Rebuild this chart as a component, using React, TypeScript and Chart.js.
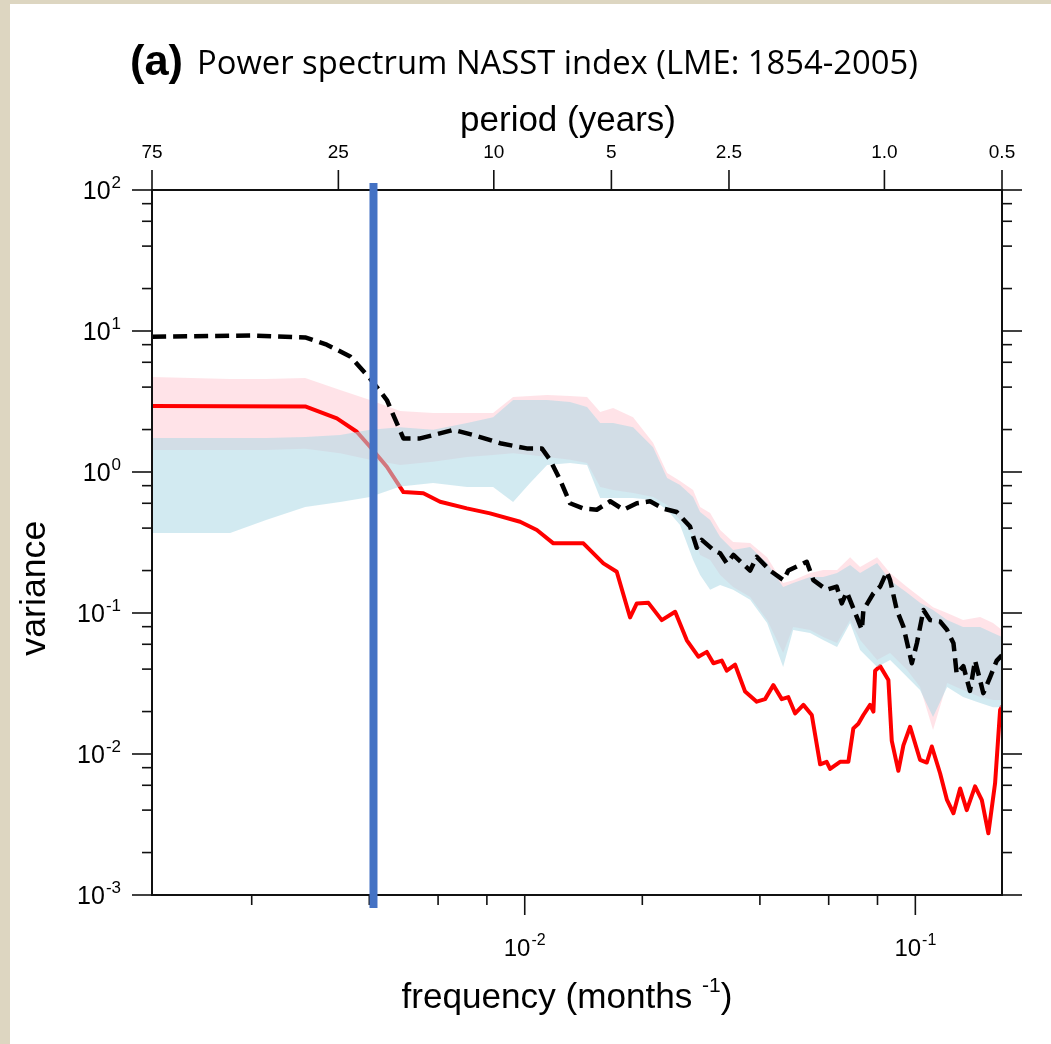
import React, { useEffect, useRef } from 'react';
import { Chart, registerables } from 'chart.js';

Chart.register(...registerables);

// ---------- axis ranges ----------
const FREQ_MIN = 1 / 900; // 75-year period, cycles per month
const FREQ_MAX = 1 / 6; // 0.5-year period
const VAR_MIN = 1e-3;
const VAR_MAX = 1e2;

// ---------- black dashed spectrum ----------
const blackFreq = [
  0.001112, 0.002, 0.002741, 0.003113, 0.003573, 0.004018, 0.004436, 0.004891, 0.005398, 0.006566,
  0.007391, 0.00865, 0.01012, 0.01106, 0.01161, 0.01232, 0.01306, 0.01413, 0.01529, 0.01655,
  0.0179, 0.01936, 0.02094, 0.02265, 0.0245, 0.0265, 0.02757, 0.02839, 0.03041, 0.03164,
  0.0329, 0.03422, 0.03776, 0.03926, 0.04246, 0.04594, 0.0473, 0.05272, 0.05483, 0.05929,
  0.0629, 0.06481, 0.06676, 0.07079, 0.07295, 0.07362, 0.0781, 0.08124, 0.08453, 0.08617,
  0.08964, 0.0932, 0.09795, 0.1009, 0.1049, 0.1091, 0.1157, 0.1205, 0.1252, 0.1276,
  0.1327, 0.138, 0.1422, 0.1493, 0.1553, 0.1616, 0.1665,
];
const blackVariance = [
  9.1, 9.3, 9.0, 8.0, 6.6, 4.6, 3.24, 1.73, 1.73, 1.99,
  1.83, 1.6, 1.47, 1.47, 1.22, 0.88, 0.6, 0.55, 0.54, 0.62,
  0.54, 0.6, 0.62, 0.55, 0.52, 0.41, 0.29, 0.33, 0.28, 0.265,
  0.225, 0.258, 0.2, 0.25, 0.2, 0.171, 0.2, 0.231, 0.171, 0.146,
  0.154, 0.117, 0.141, 0.094, 0.076, 0.105, 0.138, 0.154, 0.196, 0.171,
  0.105, 0.08, 0.044, 0.061, 0.105, 0.089, 0.087, 0.076, 0.061, 0.037,
  0.042, 0.028, 0.046, 0.027, 0.035, 0.046, 0.05,
];

// ---------- red spectrum ----------
const redFreq = [
  0.001112, 0.002741, 0.003304, 0.003716, 0.004018, 0.004436, 0.004891, 0.005502, 0.006071, 0.00711,
  0.008151, 0.00973, 0.01074, 0.01184, 0.01413, 0.0159, 0.0172, 0.01861, 0.01936, 0.02073,
  0.02243, 0.02427, 0.026, 0.02783, 0.02925, 0.03041, 0.03195, 0.0329, 0.03456, 0.03666,
  0.03926, 0.04124, 0.0433, 0.0455, 0.0473, 0.04924, 0.05169, 0.05431, 0.05705, 0.05929,
  0.0605, 0.06416, 0.06739, 0.06939, 0.07146, 0.07362, 0.07657, 0.0781, 0.07889, 0.08124,
  0.08531, 0.08703, 0.09047, 0.0932, 0.09696, 0.1028, 0.107, 0.1102, 0.1157, 0.1205,
  0.1252, 0.1302, 0.1354, 0.1422, 0.148, 0.1538, 0.16, 0.1648, 0.1667,
];
const redVariance = [
  2.94, 2.92, 2.4, 1.93, 1.51, 1.09, 0.72, 0.706, 0.615, 0.552,
  0.509, 0.444, 0.388, 0.312, 0.312, 0.225, 0.196, 0.093, 0.117, 0.118,
  0.089, 0.102, 0.064, 0.049, 0.053, 0.044, 0.046, 0.039, 0.043, 0.0277,
  0.0235, 0.0245, 0.0308, 0.0245, 0.0253, 0.0194, 0.0223, 0.0189, 0.00845, 0.0088,
  0.00783, 0.0088, 0.0088, 0.0152, 0.0164, 0.0189, 0.0223, 0.02, 0.039, 0.042,
  0.0335, 0.0124, 0.0076, 0.0115, 0.0156, 0.0091, 0.0087, 0.0113, 0.0073, 0.00472,
  0.0038, 0.0057, 0.004, 0.0059, 0.0047, 0.00274, 0.0062, 0.0205, 0.022,
];

// ---------- shaded ranges ----------
const bandFreq = [
  0.001112, 0.001761, 0.002177, 0.002741, 0.003367, 0.004018, 0.004797, 0.005826, 0.007119, 0.008298,
  0.009337, 0.01032, 0.01141, 0.01306, 0.01444, 0.0156, 0.01684, 0.01894, 0.02131, 0.02315,
  0.02498, 0.02698, 0.02812, 0.02983, 0.03164, 0.03416, 0.03776, 0.04173, 0.04587, 0.04866,
  0.05377, 0.05806, 0.06303, 0.06808, 0.0722, 0.07982, 0.08617, 0.09526, 0.1028, 0.111,
  0.1206, 0.1325, 0.1465, 0.1581, 0.1667,
];
const pinkUpper = [
  4.72, 4.57, 4.57, 4.64, 3.82, 3.24, 2.71, 2.62, 2.62, 2.62,
  3.4, 3.46, 3.52, 3.46, 3.4, 2.66, 2.84, 2.45, 1.61, 0.984,
  0.863, 0.745, 0.565, 0.512, 0.388, 0.319, 0.314, 0.249, 0.163, 0.171,
  0.192, 0.202, 0.202, 0.249, 0.212, 0.249, 0.192, 0.153, 0.13, 0.11,
  0.1, 0.0892, 0.0937, 0.0849, 0.0757,
];
const pinkLower = [
  1.43, 1.43, 1.43, 1.46, 1.36, 1.22, 1.12, 1.18, 1.28, 1.32,
  1.36, 1.32, 1.28, 1.22, 1.16, 0.783, 0.745, 0.71, 0.665, 0.583,
  0.457, 0.357, 0.258, 0.238, 0.186, 0.153, 0.13, 0.0892, 0.052, 0.0796,
  0.0757, 0.0676, 0.0613, 0.0892, 0.0644, 0.0464, 0.052, 0.0394, 0.0299, 0.0148,
  0.0319, 0.0284, 0.0254, 0.0242, 0.0242,
];
const blueUpper = [
  1.74, 1.74, 1.74, 1.77, 1.83, 1.99, 2.08, 1.99, 2.23, 2.45,
  3.24, 3.24, 3.24, 3.14, 2.89, 2.23, 2.23, 2.08, 1.5, 0.907,
  0.809, 0.665, 0.52, 0.457, 0.346, 0.28, 0.294, 0.226, 0.153, 0.163,
  0.18, 0.18, 0.192, 0.219, 0.192, 0.226, 0.171, 0.139, 0.118, 0.105,
  0.0892, 0.0796, 0.0796, 0.0721, 0.0676,
];
const blueLower = [
  0.369, 0.369, 0.457, 0.565, 0.613, 0.665, 0.79, 0.836, 0.783, 0.783,
  0.613, 0.836, 1.12, 1.16, 1.12, 0.654, 0.654, 0.654, 0.633, 0.538,
  0.421, 0.238, 0.186, 0.146, 0.158, 0.146, 0.124, 0.0849, 0.0414, 0.0757,
  0.0721, 0.0644, 0.0574, 0.0849, 0.0547, 0.0414, 0.0464, 0.0352, 0.0284, 0.0183,
  0.0299, 0.0254, 0.023, 0.0215, 0.0215,
];

// ---------- ticks & marker ----------
const periodYears = [75, 25, 10, 5, 2.5, 1.0, 0.5];
const periodLabels = ['75', '25', '10', '5', '2.5', '1.0', '0.5'];
const varianceExponents = [-3, -2, -1, 0, 1, 2];
const frequencyExponents = [-2, -1];
const minorMultipliers = [2, 4, 6, 8];
const markerFreq = 0.0041;

const titleBold = '(a)';
const titleText = 'Power spectrum NASST index (LME: 1854-2005)';
const topAxisTitle = 'period (years)';
const xAxisTitle = 'frequency (months ';
const xAxisTitleSup = '-1';
const xAxisTitleEnd = ')';
const yAxisTitle = 'variance';

const AXIS_FONT = '"Liberation Sans", Arial, Helvetica, sans-serif';
const TITLE_FONT = '"Open Sans", "Noto Sans", sans-serif';

const pts = (xs: number[], ys: number[]) => xs.map((x, i) => ({ x, y: ys[i] }));

function fitSize(ctx: CanvasRenderingContext2D, text: string, family: string, weight: string, target: number) {
  ctx.font = `${weight} 100px ${family}`;
  const w = ctx.measureText(text).width;
  return (100 * target) / w;
}

const overlayPlugin = {
  id: 'overlay',
  afterDraw(chart: any) {
    const ctx: CanvasRenderingContext2D = chart.ctx;
    const a = chart.chartArea;
    const xs = chart.scales.x;
    const ys = chart.scales.y;
    ctx.save();
    ctx.strokeStyle = '#111';
    ctx.fillStyle = '#000';
    const line = (x1: number, y1: number, x2: number, y2: number) => {
      ctx.beginPath();
      ctx.moveTo(x1, y1);
      ctx.lineTo(x2, y2);
      ctx.stroke();
    };
    // frame
    ctx.lineWidth = 2;
    ctx.strokeRect(a.left, a.top, a.right - a.left, a.bottom - a.top);

    // y ticks (left & right, outward)
    ctx.lineWidth = 1.6;
    varianceExponents.forEach((e, i) => {
      const y = ys.getPixelForValue(Math.pow(10, e));
      line(a.left - 20, y, a.left, y);
      line(a.right, y, a.right + 20, y);
      if (i < varianceExponents.length - 1) {
        minorMultipliers.forEach((m) => {
          const yy = ys.getPixelForValue(m * Math.pow(10, e));
          line(a.left - 10, yy, a.left, yy);
          line(a.right, yy, a.right + 10, yy);
        });
      }
    });
    // x ticks (bottom)
    frequencyExponents.forEach((e) => {
      const x = xs.getPixelForValue(Math.pow(10, e));
      line(x, a.bottom, x, a.bottom + 20);
    });
    [-3, -2, -1].forEach((e) => {
      minorMultipliers.forEach((m) => {
        const v = m * Math.pow(10, e);
        if (v > FREQ_MIN && v < FREQ_MAX) {
          const x = xs.getPixelForValue(v);
          line(x, a.bottom, x, a.bottom + 10);
        }
      });
    });
    // top ticks: periods
    periodYears.forEach((p) => {
      const x = xs.getPixelForValue(1 / (p * 12));
      line(x, a.top, x, a.top - 20);
    });

    // labels
    const supLabel = (base: string, sup: string, x: number, y: number, align: 'right' | 'center', bs: number, ss: number, raise: number) => {
      ctx.font = `${bs}px ${AXIS_FONT}`;
      const wb = ctx.measureText(base).width;
      ctx.font = `${ss}px ${AXIS_FONT}`;
      const ws = ctx.measureText(sup).width;
      const total = wb + ws + 1;
      const x0 = align === 'right' ? x - total : x - total / 2;
      ctx.textAlign = 'left';
      ctx.textBaseline = 'alphabetic';
      ctx.font = `${bs}px ${AXIS_FONT}`;
      ctx.fillText(base, x0, y);
      ctx.font = `${ss}px ${AXIS_FONT}`;
      ctx.fillText(sup, x0 + wb + 1, y - raise);
    };
    varianceExponents.forEach((e) => {
      const y = ys.getPixelForValue(Math.pow(10, e));
      supLabel('10', String(e), a.left - 31, y + 9, 'right', 25, 17, 11);
    });
    frequencyExponents.forEach((e) => {
      const x = xs.getPixelForValue(Math.pow(10, e));
      supLabel('10', String(e), x, a.bottom + 61, 'center', 24, 16, 11);
    });
    ctx.textAlign = 'center';
    ctx.textBaseline = 'alphabetic';
    ctx.font = `19px ${AXIS_FONT}`;
    periodYears.forEach((p, i) => {
      const x = xs.getPixelForValue(1 / (p * 12));
      ctx.fillText(periodLabels[i], x, a.top - 32);
    });

    // top axis title
    const cx = (a.left + a.right) / 2;
    let s = fitSize(ctx, topAxisTitle, AXIS_FONT, '', 216);
    ctx.font = `${s}px ${AXIS_FONT}`;
    ctx.textAlign = 'center';
    ctx.fillText(topAxisTitle, cx - 9, a.top - 59);

    // bottom axis title with superscript
    const fullW = 331;
    ctx.font = `100px ${AXIS_FONT}`;
    const w1 = ctx.measureText(xAxisTitle).width;
    const w3 = ctx.measureText(xAxisTitleEnd).width;
    ctx.font = `60px ${AXIS_FONT}`;
    const w2 = ctx.measureText(xAxisTitleSup).width;
    const k = fullW / (w1 + w2 + w3);
    const bs = 100 * k;
    const ss = 60 * k;
    const x0 = cx - 10 - fullW / 2;
    ctx.textAlign = 'left';
    ctx.font = `${bs}px ${AXIS_FONT}`;
    ctx.fillText(xAxisTitle, x0, a.bottom + 113);
    ctx.font = `${ss}px ${AXIS_FONT}`;
    ctx.fillText(xAxisTitleSup, x0 + w1 * k, a.bottom + 113 - 0.45 * bs);
    ctx.font = `${bs}px ${AXIS_FONT}`;
    ctx.fillText(xAxisTitleEnd, x0 + (w1 + w2) * k, a.bottom + 113);

    // y axis title
    s = fitSize(ctx, yAxisTitle, AXIS_FONT, '', 135);
    ctx.save();
    ctx.translate(a.left - 117, ys.getPixelForValue(0.15));
    ctx.rotate(-Math.PI / 2);
    ctx.font = `${s}px ${AXIS_FONT}`;
    ctx.textAlign = 'center';
    ctx.textBaseline = 'middle';
    ctx.fillText(yAxisTitle, 0, 0);
    ctx.restore();

    // main title
    ctx.textAlign = 'left';
    ctx.textBaseline = 'alphabetic';
    s = fitSize(ctx, titleBold, AXIS_FONT, 'bold', 53);
    ctx.font = `bold ${s}px ${AXIS_FONT}`;
    ctx.fillText(titleBold, a.left - 22, a.top - 115);
    s = fitSize(ctx, titleText, TITLE_FONT, '', 721);
    ctx.font = `${s}px ${TITLE_FONT}`;
    ctx.fillText(titleText, a.left + 45, a.top - 116);

    // blue marker line
    const mx = xs.getPixelForValue(markerFreq);
    ctx.strokeStyle = '#4472c4';
    ctx.lineWidth = 8;
    line(mx, a.top - 7, mx, a.bottom + 13);
    ctx.restore();
  },
};

export default function App() {
  const canvasRef = useRef<HTMLCanvasElement | null>(null);
  useEffect(() => {
    const canvas = canvasRef.current;
    if (!canvas) return;
    const invisible = { borderWidth: 0, borderColor: 'rgba(0,0,0,0)', pointRadius: 0 };
    const chart = new Chart(canvas, {
      type: 'line',
      data: {
        datasets: [
          { label: 'pink low', data: pts(bandFreq, pinkLower), fill: false, order: 6, ...invisible },
          {
            label: 'pink range',
            data: pts(bandFreq, pinkUpper),
            fill: '-1',
            backgroundColor: 'rgba(255,192,203,0.45)',
            order: 5,
            ...invisible,
          },
          {
            label: 'red',
            data: pts(redFreq, redVariance),
            borderColor: '#ff0000',
            borderWidth: 4,
            borderJoinStyle: 'round',
            pointRadius: 0,
            fill: false,
            order: 4,
          },
          { label: 'blue low', data: pts(bandFreq, blueLower), fill: false, order: 3, ...invisible },
          {
            label: 'blue range',
            data: pts(bandFreq, blueUpper),
            fill: '-1',
            backgroundColor: 'rgba(173,216,230,0.55)',
            order: 2,
            ...invisible,
          },
          {
            label: 'black',
            data: pts(blackFreq, blackVariance),
            borderColor: '#000000',
            borderWidth: 4.5,
            borderDash: [14, 7],
            borderJoinStyle: 'round',
            pointRadius: 0,
            fill: false,
            order: 1,
          },
        ],
      },
      options: {
        animation: false,
        responsive: false,
        maintainAspectRatio: false,
        events: [],
        layout: { padding: { left: 142, top: 186, right: 49, bottom: 149 } },
        elements: { line: { tension: 0 } },
        plugins: { legend: { display: false }, tooltip: { enabled: false }, title: { display: false } },
        scales: {
          x: { type: 'logarithmic', min: FREQ_MIN, max: FREQ_MAX, display: false },
          y: { type: 'logarithmic', min: VAR_MIN, max: VAR_MAX, display: false },
        },
      },
      plugins: [overlayPlugin],
    });
    return () => chart.destroy();
  }, []);

  return (
    <div style={{ position: 'absolute', left: 0, top: 0, width: 1051, height: 1044, background: '#ddd6c1', overflow: 'hidden' }}>
      <canvas
        ref={canvasRef}
        width={1041}
        height={1040}
        style={{ position: 'absolute', left: 10, top: 4, width: 1041, height: 1040, background: '#ffffff', display: 'block' }}
      />
    </div>
  );
}
